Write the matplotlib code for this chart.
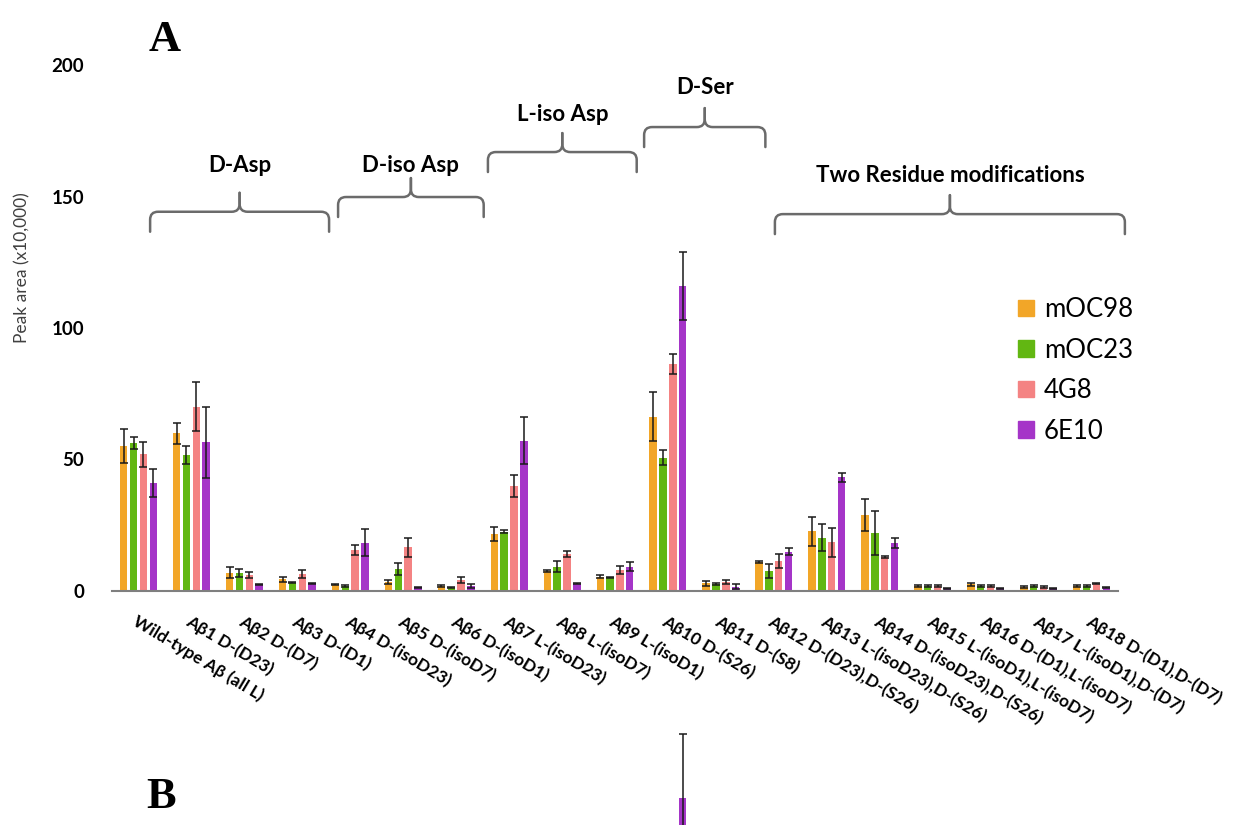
import numpy as np
import matplotlib
matplotlib.use("Agg")
import matplotlib.pyplot as plt
from matplotlib.path import Path
from matplotlib.patches import PathPatch, Patch

plt.rcParams['font.family'] = ['Lato', 'DejaVu Sans']

# ---- data ----
categories = ["Wild-type A\u03b2 (all L)", "A\u03b21 D-(D23)", "A\u03b22 D-(D7)", "A\u03b23 D-(D1)",
              "A\u03b24 D-(isoD23)", "A\u03b25 D-(isoD7)", "A\u03b26 D-(isoD1)", "A\u03b27 L-(isoD23)",
              "A\u03b28 L-(isoD7)", "A\u03b29 L-(isoD1)", "A\u03b210 D-(S26)", "A\u03b211 D-(S8)",
              "A\u03b212 D-(D23),D-(S26)", "A\u03b213 L-(isoD23),D-(S26)", "A\u03b214 D-(isoD23),D-(S26)",
              "A\u03b215 L-(isoD1),L-(isoD7)", "A\u03b216 D-(D1),L-(isoD7)", "A\u03b217 L-(isoD1),D-(D7)",
              "A\u03b218 D-(D1),D-(D7)"]
series = ["mOC98", "mOC23", "4G8", "6E10"]

moc98 = [55.1, 60.0, 7.0, 4.4, 2.4, 3.5, 1.8, 21.7, 7.6, 5.4, 66.3, 2.9, 11.1, 22.8, 28.9, 2.0, 2.5, 1.6, 1.8]
moc98_err = [6.5, 4.0, 2.0, 0.8, 0.3, 0.8, 0.3, 2.8, 0.5, 0.6, 9.2, 1.0, 0.3, 5.5, 6.0, 0.3, 0.7, 0.3, 0.3]
moc23 = [56.4, 51.6, 6.7, 3.2, 2.0, 8.2, 1.3, 22.6, 9.3, 5.2, 50.7, 2.7, 7.7, 20.3, 22.1, 2.0, 1.8, 1.8, 1.9]
moc23_err = [2.3, 3.5, 1.5, 0.3, 0.3, 2.3, 0.3, 0.5, 2.1, 0.3, 2.9, 0.3, 2.6, 5.2, 8.5, 0.3, 0.3, 0.3, 0.3]
g4g8 = [52.0, 70.1, 6.1, 6.5, 15.6, 16.6, 4.2, 40.0, 14.0, 8.0, 86.2, 3.5, 11.5, 18.5, 13.0, 2.0, 2.0, 1.6, 2.8]
g4g8_err = [4.8, 9.4, 1.2, 1.5, 1.9, 3.7, 1.0, 4.1, 1.2, 1.6, 3.8, 0.8, 2.6, 5.6, 0.4, 0.3, 0.3, 0.3, 0.3]
e6e10 = [41.0, 56.5, 2.5, 3.0, 18.4, 1.4, 1.9, 57.2, 2.7, 9.3, 116.1, 1.6, 15.0, 43.2, 18.4, 1.0, 1.0, 1.0, 1.2]
e6e10_err = [5.4, 13.6, 0.2, 0.2, 5.1, 0.2, 0.8, 9.1, 0.2, 1.6, 12.9, 0.9, 1.3, 1.8, 1.9, 0.2, 0.2, 0.2, 0.2]

# group brackets: label, x start, x end (category units), bracket height
bracket_labels = ["D-Asp", "D-iso Asp", "L-iso Asp", "D-Ser", "Two Residue modifications"]
bracket_x0 = [0.22, 3.77, 6.60, 9.55, 12.02]
bracket_x1 = [3.60, 6.52, 9.41, 11.84, 18.63]
bracket_y = [144.2, 149.8, 166.9, 176.4, 143.3]
bracket_text_y = [161.6, 161.6, 181.0, 191.3, 157.8]

# panel B (cropped at the bottom of the image): only the 6E10 bar of Abeta10 shows
panel_b_val = [150.0]
panel_b_err = [23.7]
panel_b_cat = [10]

colors = ["#F2A628", "#62B712", "#F48383", "#A535C8"]
W, H = 1239, 825

fig = plt.figure(figsize=(W / 100, H / 100), dpi=100)
ax = fig.add_axes([112 / W, 1 - 591 / H, 1006 / W, 526 / H])

x = np.arange(len(categories))
vals = [moc98, moc23, g4g8, e6e10]
errs = [moc98_err, moc23_err, g4g8_err, e6e10_err]
pitch = 0.186
bw = 0.14
for i in range(4):
    ax.bar(x + (i - 1.5) * pitch, vals[i], bw, color=colors[i], label=series[i],
           yerr=errs[i], error_kw=dict(ecolor="#1a1a1a", elinewidth=1.1, capsize=2.6, capthick=1.1))

ax.set_xlim(-0.5, len(categories) - 0.5)
ax.set_ylim(0, 200)
for s in ["top", "right", "left"]:
    ax.spines[s].set_visible(False)
ax.spines["bottom"].set_color("#7f7f7f")
ax.spines["bottom"].set_linewidth(1.5)
ax.set_yticks([0, 50, 100, 150, 200])
ax.set_yticklabels(["0", "50", "100", "150", "200"], fontsize=13.5, fontweight="bold")
ax.tick_params(axis="y", length=0, pad=20)
ax.set_xticks(x)
ax.set_xticklabels(categories, rotation=-31, ha="left", va="top", rotation_mode="anchor",
                   fontsize=12.5, fontweight="bold")
ax.tick_params(axis="x", length=0, pad=16)
fig.text(22 / W, 1 - 268 / H, "Peak area (x10,000)", rotation=90, ha="center", va="center",
         fontsize=12.5, color="#404040")

# curly brackets
rx, ry = 0.15, 3.0
depth, tip = 7.6, 7.2
for lab, x0, x1, yh, ty in zip(bracket_labels, bracket_x0, bracket_x1, bracket_y, bracket_text_y):
    xm = (x0 + x1) / 2
    for a, sgn in ((x0, 1), (x1, -1)):
        verts = [(a, yh - depth), (a, yh - ry), (a, yh), (a + sgn * rx, yh),
                 (xm - sgn * rx, yh), (xm, yh), (xm, yh + ry), (xm, yh + tip)]
        codes = [Path.MOVETO, Path.LINETO, Path.CURVE3, Path.CURVE3,
                 Path.LINETO, Path.CURVE3, Path.CURVE3, Path.LINETO]
        ax.add_patch(PathPatch(Path(verts, codes), fill=False, edgecolor="#6b6b6b", lw=1.8,
                               capstyle="round", joinstyle="round", clip_on=False))
    ax.text(xm, ty, lab, ha="center", va="center", fontsize=16, fontweight="bold")

handles = [Patch(color=c, label=s) for c, s in zip(colors, series)]
fig.legend(handles=handles, loc="upper left", bbox_to_anchor=(1008 / W, 1 - 287 / H),
           frameon=False, fontsize=18.5, handlelength=0.6, handleheight=0.6,
           handletextpad=0.4, labelspacing=0.6, borderaxespad=0)

fig.text(165 / W, 1 - 40 / H, "A", fontsize=32, fontweight="bold", family="Liberation Serif",
         ha="center", va="center")
fig.text(161 / W, 1 - 797 / H, "B", fontsize=32, fontweight="bold", family="Liberation Serif",
         ha="center", va="center")

# panel B, mostly outside the image
axb = fig.add_axes([112 / W, -0.45, 1006 / W, 0.58])
axb.bar(np.array(panel_b_cat) + 1.5 * pitch, panel_b_val, bw, color=colors[3],
        yerr=panel_b_err, error_kw=dict(ecolor="#1a1a1a", elinewidth=1.1, capsize=2.6, capthick=1.1))
axb.set_xlim(-0.5, len(categories) - 0.5)
axb.set_ylim(0, 180)
axb.axis("off")

fig.savefig("out.png", dpi=100)
